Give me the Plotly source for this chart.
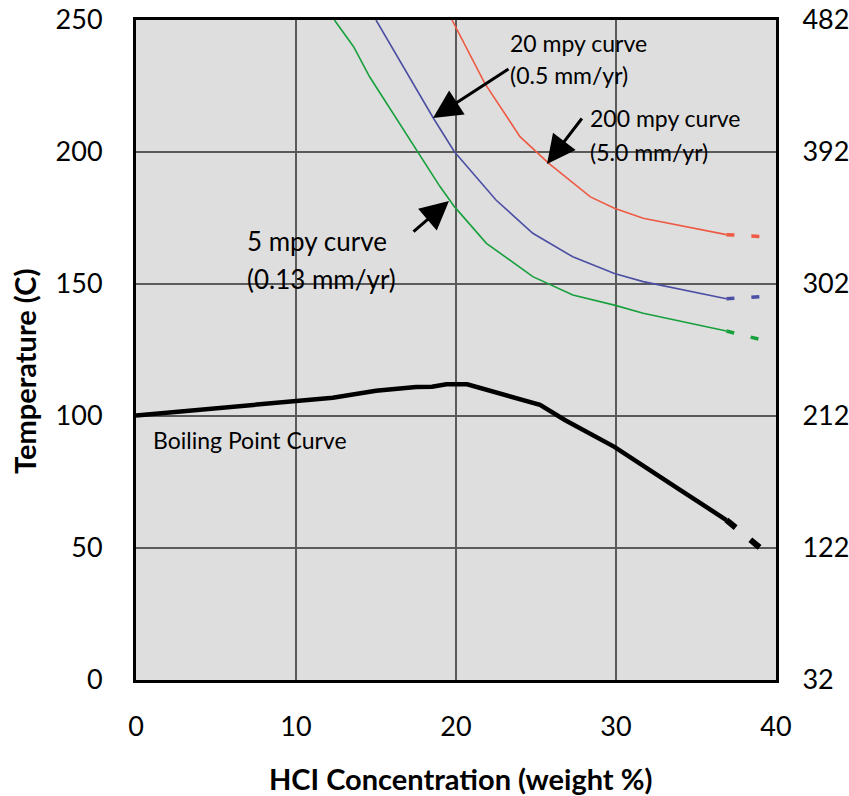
import plotly.graph_objects as go

# ---- data ----
bp_x = [0, 5, 10, 12.3, 15, 17.5, 18.5, 19.4, 20.7, 22.8, 25.25, 26.8, 29.9, 34, 36.9]
bp_y = [100.2, 102.8, 105.4, 106.9, 109.6, 111.0, 111.1, 112.0, 112.0, 108.6, 104.2, 98.5, 88.3, 72.0, 60.6]
bp_ext_x = [36.9, 39.3]
bp_ext_y = [60.6, 48.6]

red_x = [19.75, 21.8, 24.0, 25.8, 28.4, 29.9, 31.7, 36.9]
red_y = [250, 226, 205.8, 195.7, 183, 178.7, 174.9, 168.7]
red_ext_x = [36.9, 39.0]
red_ext_y = [168.7, 168.0]

blue_x = [15.0, 18.6, 19.9, 22.5, 24.8, 27.3, 29.9, 31.7, 36.9]
blue_y = [250, 212.7, 200.1, 181.8, 169.2, 160.3, 154.0, 150.9, 144.4]
blue_ext_x = [36.9, 39.0]
blue_ext_y = [144.4, 145.2]

green_x = [12.4, 13.6, 14.6, 17.5, 19.0, 19.9, 21.9, 24.8, 27.3, 29.9, 31.7, 36.9]
green_y = [250, 239.9, 228.5, 200.8, 186.9, 179.3, 165.4, 152.8, 145.8, 142.0, 138.9, 132.2]
green_ext_x = [36.9, 39.0]
green_ext_y = [132.2, 129.0]

x_ticks = [0, 10, 20, 30, 40]
yc_ticks = [0, 50, 100, 150, 200, 250]
yf_ticks = [32, 122, 212, 302, 392, 482]

RED = "#ee5a43"
BLUE = "#4c4fa3"
GREEN = "#17a03c"
FONT = "Lato"

W, H = 849, 796
# plot-area geometry in page pixels
PL, PR, PT, PB = 136, 776, 20, 680
L, T, R, B = PL, PT, W - PR, H - PB
PW, PH = PR - PL, PB - PT

def px_to_data(px, py):
    return (px - PL) / PW * 40, (PB - py) / PH * 250

fig = go.Figure()

def add_curve(x, y, ex, ey, color, w, ew, dash):
    fig.add_trace(go.Scatter(x=x, y=y, mode="lines", line=dict(color=color, width=w),
                             showlegend=False, hoverinfo="skip"))
    fig.add_trace(go.Scatter(x=ex, y=ey, mode="lines", line=dict(color=color, width=ew, dash=dash),
                             showlegend=False, hoverinfo="skip"))

add_curve(red_x, red_y, red_ext_x, red_ext_y, RED, 1.6, 3.5, "8px,17px")
add_curve(blue_x, blue_y, blue_ext_x, blue_ext_y, BLUE, 1.6, 3.5, "8px,17px")
add_curve(green_x, green_y, green_ext_x, green_ext_y, GREEN, 1.6, 3.5, "8px,17px")
add_curve(bp_x, bp_y, bp_ext_x, bp_ext_y, "black", 4.5, 6, "12px,19px")

# invisible trace to carry the Fahrenheit axis
fig.add_trace(go.Scatter(x=[0], y=[yf_ticks[0]], yaxis="y2", mode="markers",
                         marker=dict(opacity=0), showlegend=False, hoverinfo="skip"))

ann = []
def text(px, py, s, size=22):
    x, y = px_to_data(px, py)
    ann.append(dict(x=x, y=y, xref="x", yref="y", text=s, showarrow=False,
                    xanchor="left", yanchor="middle", font=dict(family=FONT, size=size, color="black")))

text(508, 43, "20 mpy curve", 23)
text(508, 75, "(0.5 mm/yr)", 23)
text(588, 118, "200 mpy curve", 23)
text(588, 152, "(5.0 mm/yr)", 23)
text(245, 241, "5 mpy curve", 26)
text(245, 279, "(0.13 mm/yr)", 26)
text(151, 440, "Boiling Point Curve", 23)

def arrow(hpx, hpy, tpx, tpy):
    hx, hy = px_to_data(hpx, hpy)
    tx, ty = px_to_data(tpx, tpy)
    ann.append(dict(x=hx, y=hy, ax=tx, ay=ty, xref="x", yref="y", axref="x", ayref="y",
                    text="", showarrow=True, arrowhead=2, arrowsize=1.9, arrowwidth=3,
                    arrowcolor="black"))

arrow(433, 118, 510, 68)
arrow(547, 164, 583, 117)
arrow(449, 201, 412, 233)

ann.append(dict(x=(24 - PL) / PW, y=(PB - 372) / PH, xref="paper", yref="paper",
                xanchor="center", yanchor="middle",
                text="<b>Temperature (C)</b>", showarrow=False, textangle=-90,
                font=dict(family=FONT, size=29, color="black")))
ann.append(dict(x=(460 - PL) / PW, y=(PB - 778) / PH, xref="paper", yref="paper",
                xanchor="center", yanchor="middle",
                text="<b>HCI Concentration (weight %)</b>", showarrow=False,
                font=dict(family=FONT, size=29, color="black")))

axis_common = dict(zeroline=False, ticks="", automargin=False,
                   ticklabeloverflow="allow", tickfont=dict(family=FONT, size=27),
                   showline=True, linecolor="black", linewidth=3)

fig.update_layout(
    width=W, height=H,
    margin=dict(l=L, r=R, t=T, b=B),
    paper_bgcolor="white", plot_bgcolor="#dedede",
    font=dict(family=FONT, color="black"),
    annotations=ann,
    xaxis=dict(range=[0, 40], tickvals=x_ticks, showgrid=True, gridcolor="#5a5a5a", gridwidth=1.5,
               mirror=True, ticklabelstandoff=21, **axis_common),
    yaxis=dict(range=[0, 250], tickvals=yc_ticks, showgrid=True, gridcolor="#5a5a5a", gridwidth=1.5,
               ticklabelstandoff=25, **axis_common),
    yaxis2=dict(range=[32, 482], tickvals=yf_ticks, overlaying="y", side="right", showgrid=False,
                ticklabelstandoff=18, **axis_common),
)

fig.write_html("out.html", config={"displayModeBar": False},
               post_script="document.body.style.margin='0px';document.body.style.overflow='hidden';")
